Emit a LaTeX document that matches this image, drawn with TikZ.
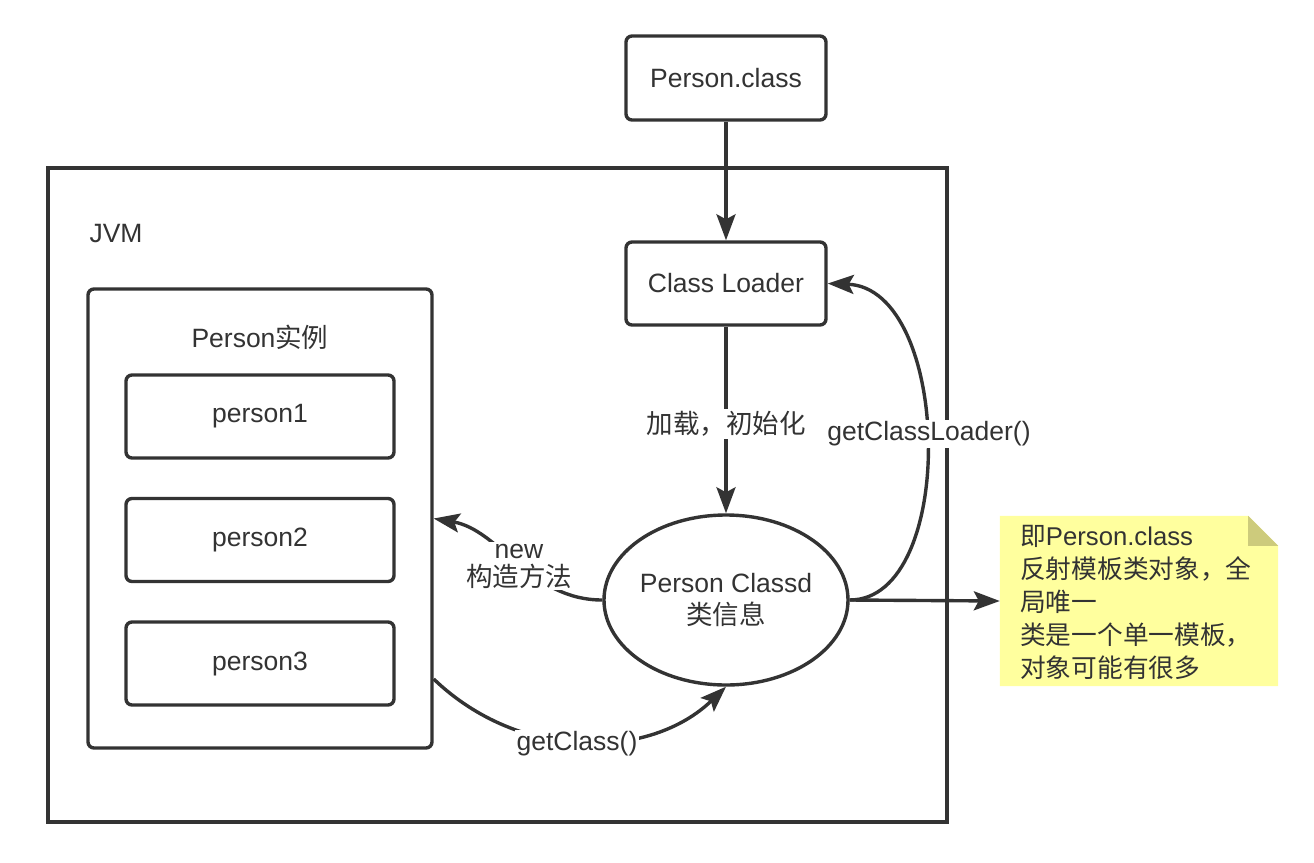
\documentclass[tikz,border=0pt]{standalone}
\usepackage{fontspec}
\setmainfont{Liberation Sans}
\newfontfamily\cjk{Noto Sans CJK SC}
\usetikzlibrary{arrows.meta,shapes.geometric}
\definecolor{ink}{HTML}{333333}
\definecolor{notefill}{HTML}{FFFF9E}
\definecolor{foldfill}{HTML}{CDCB7C}
\begin{document}
\begin{tikzpicture}[x=1pt,y=-1pt,
  every node/.style={font=\fontsize{26.5}{32}\selectfont, text=ink},
  rbox/.style={draw=ink, line width=3.4pt, rounded corners=6pt, fill=white, inner sep=0pt},
  plain/.style={draw=ink, line width=3.4pt, inner sep=0pt},
  conn/.style={draw=ink, line width=3.4pt, -{Stealth[length=26pt,width=19pt,inset=5pt]}},
  lbl/.style={fill=white, inner sep=2pt, align=center}
]
\useasboundingbox (0,0) rectangle (1314,862);
% JVM frame
\node[plain, minimum width=899pt, minimum height=654pt] (jvm) at (497.5,495) {};
\node (jvmlbl) at (116,234) {JVM};
% top boxes
\node[rbox, minimum width=200pt, minimum height=84pt] (pc) at (726,78) {Person.class};
\node[rbox, minimum width=200pt, minimum height=83pt] (cl) at (726,283.5) {Class Loader};
% instances
\node[rbox, minimum width=344pt, minimum height=459pt] (inst) at (260,518.5) {};
\node (instlbl) at (260,337) {Person{\cjk 实例}};
\node[rbox, minimum width=268pt, minimum height=83pt] (p1) at (260,416.5) {person1};
\node[rbox, minimum width=268pt, minimum height=83pt] (p2) at (260,540) {person2};
\node[rbox, minimum width=268pt, minimum height=83pt] (p3) at (260,663.5) {person3};
% class info ellipse
\node[ellipse, plain, fill=white, minimum width=244pt, minimum height=170pt, align=center] (ell) at (726,600) {Person Classd\\[0pt]{\cjk 类信息}};
% note
\node[minimum width=278pt, minimum height=170pt, inner sep=0pt] (note) at (1139,601) {};
\fill[notefill] (note.north west) -- ([xshift=-30pt]note.north east) -- ([yshift=-30pt]note.north east) -- (note.south east) -- (note.south west) -- cycle;
\fill[foldfill] ([xshift=-30pt]note.north east) -- ([xshift=-30pt,yshift=-30pt]note.north east) -- ([yshift=-30pt]note.north east) -- cycle;
\node[anchor=west, align=left, inner sep=0pt, font=\fontsize{25.7}{33}\selectfont] (notetext) at (1020,602)
  {{\cjk 即}Person.class\\{\cjk 反射模板类对象，全}\\{\cjk 局唯一}\\{\cjk 类是一个单一模板，}\\{\cjk 对象可能有很多}};
% connectors
\draw[conn] (pc.south) -- (cl.north);
\draw[conn] (cl.south) -- (ell.north);
\draw[conn] (ell.east) .. controls (958,600) and (952,288) .. (cl.east);
\draw[conn] (ell.west) .. controls (530,600) and (500,530) .. (inst.east);
\draw[conn] ([yshift=-160.5pt]inst.east) .. controls (520,762) and (650,760) .. (ell.south);
\draw[conn] (ell.east) -- (note.west);
% labels
\node[lbl] (lload) at (726,424) {\cjk 加载，初始化};
\node[lbl] (lgcl) at (929,434) {getClassLoader()};
\node[lbl] (lnew) at (519,566) {new\\[-4pt]{\cjk 构造方法}};
\node[lbl] (lgc) at (577,744) {getClass()};
\end{tikzpicture}
\end{document}
